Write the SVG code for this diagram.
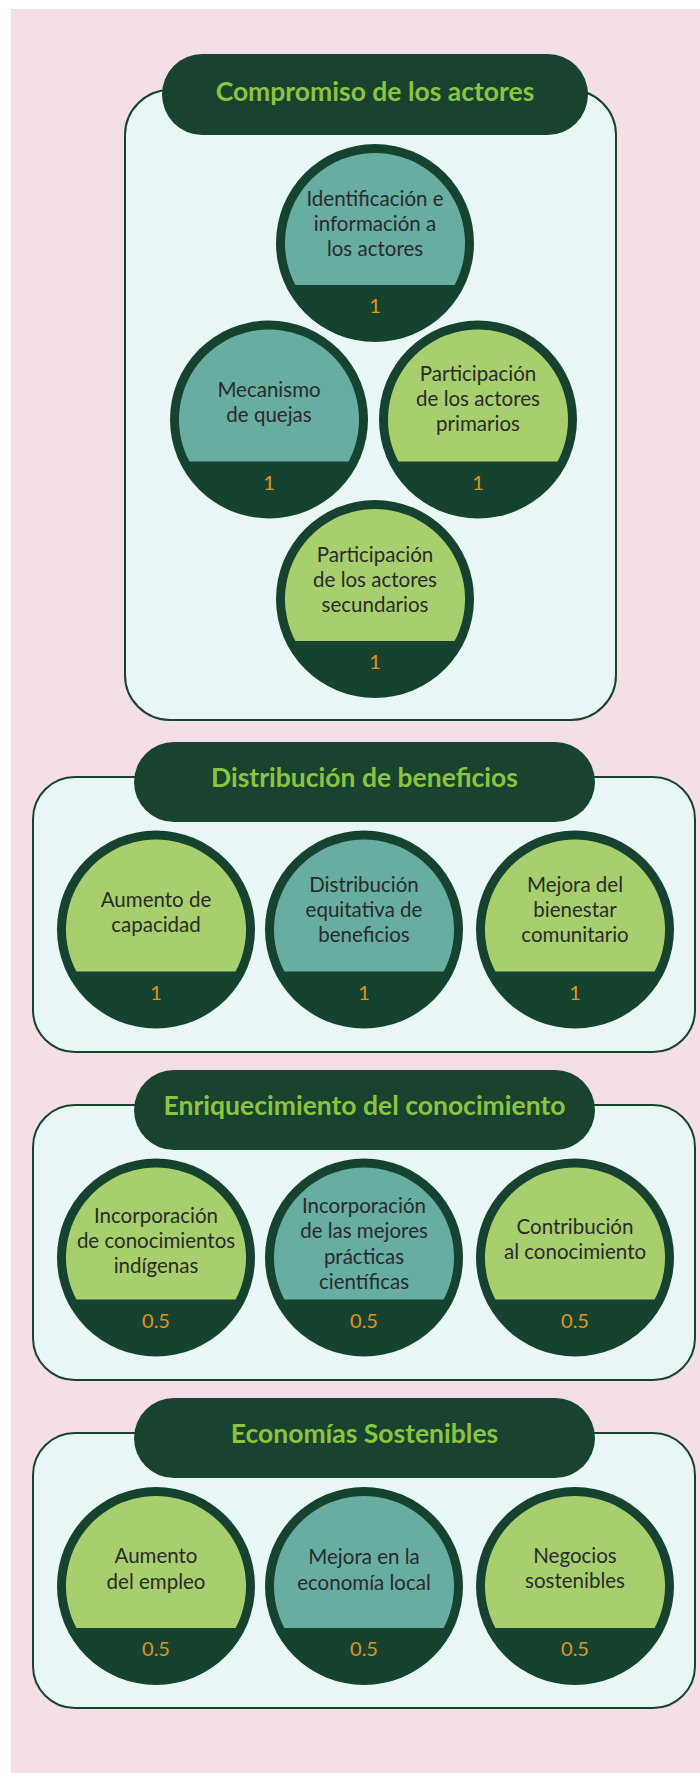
<svg xmlns="http://www.w3.org/2000/svg" xmlns:xlink="http://www.w3.org/1999/xlink" width="700" height="1773" viewBox="0 0 700 1773">
<style>
.bg{fill:#f3dfe5}
.panel{fill:#e9f6f6;stroke:#17432f;stroke-width:2}
.pill{fill:#17432f}
.ht{font-family:Lato,"Noto Sans",sans-serif;font-weight:bold;font-size:26.5px;fill:#8bc43f;text-anchor:middle}
.ring{fill:#15432f}
.teal{fill:#67ada2}
.lg{fill:#a8cf6d}
.lbl{font-family:Lato,"Noto Sans",sans-serif;font-size:20.5px;fill:#2b2b2b;text-anchor:middle}
.num{font-family:Lato,"Noto Sans",sans-serif;font-size:20px;fill:#e0931c;text-anchor:middle}
</style>
<defs>
<circle id="outer" r="99"/>
<path id="seg" d="M-79.6,42 A90,90 0 1 1 79.6,42 Z"/>
</defs>
<rect x="0" y="0" width="700" height="1773" fill="#ffffff"/>
<rect class="bg" x="11" y="9" width="689" height="1764"/>

<g id="connectors"></g>

<g id="panel-compromiso">
<rect class="panel" x="125" y="90" width="491" height="630" rx="45"/>
<rect class="pill" x="162" y="54" width="426" height="81" rx="40.5"/>
<text class="ht" x="375" y="101">Compromiso de los actores</text>
</g>
<g id="node-identificacion" transform="translate(375,243)">
<use xlink:href="#outer" class="ring"/><use xlink:href="#seg" class="teal"/>
<text class="lbl" y="-37">Identificación e</text><text class="lbl" y="-12">información a</text><text class="lbl" y="13">los actores</text>
<text class="num" y="70">1</text>
</g>
<g id="node-quejas" transform="translate(269,419.5)">
<use xlink:href="#outer" class="ring"/><use xlink:href="#seg" class="teal"/>
<text class="lbl" y="-23">Mecanismo</text><text class="lbl" y="2">de quejas</text>
<text class="num" y="70">1</text>
</g>
<g id="node-primarios" transform="translate(478,419.5)">
<use xlink:href="#outer" class="ring"/><use xlink:href="#seg" class="lg"/>
<text class="lbl" y="-39">Participación</text><text class="lbl" y="-14">de los actores</text><text class="lbl" y="11">primarios</text>
<text class="num" y="70">1</text>
</g>
<g id="node-secundarios" transform="translate(375,599)">
<use xlink:href="#outer" class="ring"/><use xlink:href="#seg" class="lg"/>
<text class="lbl" y="-37">Participación</text><text class="lbl" y="-12">de los actores</text><text class="lbl" y="13">secundarios</text>
<text class="num" y="70">1</text>
</g>

<g id="panel-distribucion">
<rect class="panel" x="33" y="777" width="662" height="275" rx="42"/>
<rect class="pill" x="134" y="742" width="461" height="80" rx="40"/>
<text class="ht" x="364.5" y="787">Distribución de beneficios</text>
</g>
<g id="node-capacidad" transform="translate(156,929.5)">
<use xlink:href="#outer" class="ring"/><use xlink:href="#seg" class="lg"/>
<text class="lbl" y="-23">Aumento de</text><text class="lbl" y="2">capacidad</text>
<text class="num" y="70">1</text>
</g>
<g id="node-equitativa" transform="translate(364,929.5)">
<use xlink:href="#outer" class="ring"/><use xlink:href="#seg" class="teal"/>
<text class="lbl" y="-38">Distribución</text><text class="lbl" y="-13">equitativa de</text><text class="lbl" y="12">beneficios</text>
<text class="num" y="70">1</text>
</g>
<g id="node-bienestar" transform="translate(575,929.5)">
<use xlink:href="#outer" class="ring"/><use xlink:href="#seg" class="lg"/>
<text class="lbl" y="-38">Mejora del</text><text class="lbl" y="-13">bienestar</text><text class="lbl" y="12">comunitario</text>
<text class="num" y="70">1</text>
</g>

<g id="panel-conocimiento">
<rect class="panel" x="33" y="1105" width="662" height="275" rx="42"/>
<rect class="pill" x="134" y="1070" width="461" height="80" rx="40"/>
<text class="ht" x="364.5" y="1115">Enriquecimiento del conocimiento</text>
</g>
<g id="node-indigenas" transform="translate(156,1257.5)">
<use xlink:href="#outer" class="ring"/><use xlink:href="#seg" class="lg"/>
<text class="lbl" y="-35">Incorporación</text><text class="lbl" y="-10">de conocimientos</text><text class="lbl" y="15">indígenas</text>
<text class="num" y="70">0.5</text>
</g>
<g id="node-cientificas" transform="translate(364,1257.5)">
<use xlink:href="#outer" class="ring"/><use xlink:href="#seg" class="teal"/>
<text class="lbl" y="-45">Incorporación</text><text class="lbl" y="-20">de las mejores</text><text class="lbl" y="6">prácticas</text><text class="lbl" y="31">científicas</text>
<text class="num" y="70">0.5</text>
</g>
<g id="node-contribucion" transform="translate(575,1257.5)">
<use xlink:href="#outer" class="ring"/><use xlink:href="#seg" class="lg"/>
<text class="lbl" y="-24">Contribución</text><text class="lbl" y="1">al conocimiento</text>
<text class="num" y="70">0.5</text>
</g>

<g id="panel-economias">
<rect class="panel" x="33" y="1433" width="662" height="275" rx="42"/>
<rect class="pill" x="134" y="1398" width="461" height="80" rx="40"/>
<text class="ht" x="364.5" y="1443">Economías Sostenibles</text>
</g>
<g id="node-empleo" transform="translate(156,1586)">
<use xlink:href="#outer" class="ring"/><use xlink:href="#seg" class="lg"/>
<text class="lbl" y="-23">Aumento</text><text class="lbl" y="3">del empleo</text>
<text class="num" y="70">0.5</text>
</g>
<g id="node-economia-local" transform="translate(364,1586)">
<use xlink:href="#outer" class="ring"/><use xlink:href="#seg" class="teal"/>
<text class="lbl" y="-22">Mejora en la</text><text class="lbl" y="4">economía local</text>
<text class="num" y="70">0.5</text>
</g>
<g id="node-negocios" transform="translate(575,1586)">
<use xlink:href="#outer" class="ring"/><use xlink:href="#seg" class="lg"/>
<text class="lbl" y="-23">Negocios</text><text class="lbl" y="2">sostenibles</text>
<text class="num" y="70">0.5</text>
</g>
</svg>
